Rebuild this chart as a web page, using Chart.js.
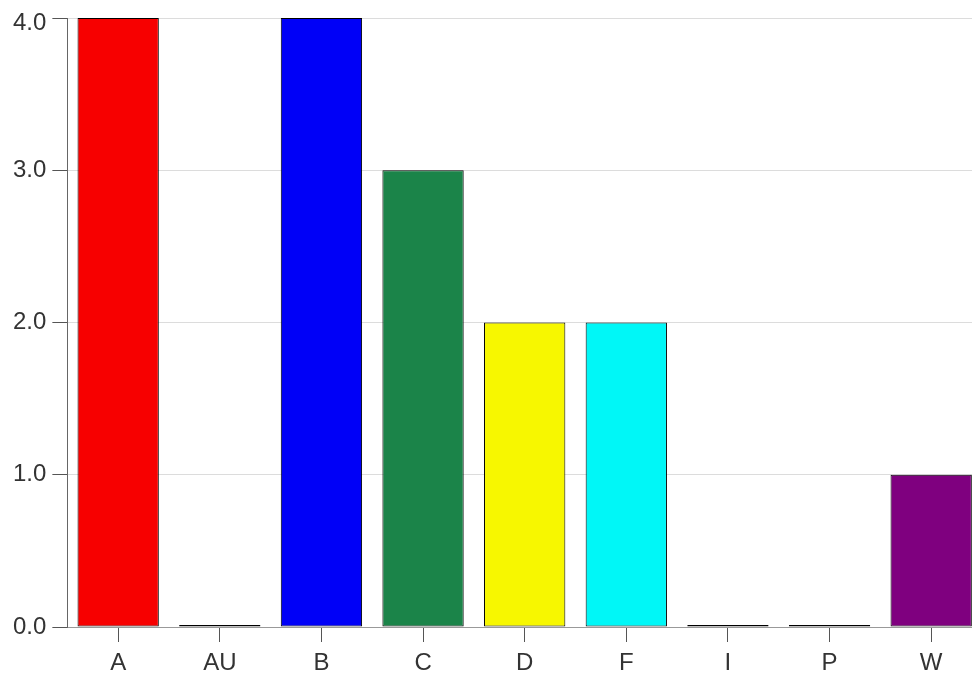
<!DOCTYPE html>
<html>
<head>
<meta charset="utf-8">
<script src="https://cdn.jsdelivr.net/npm/chart.js@4/dist/chart.umd.min.js"></script>
<style>
html,body{margin:0;padding:0;background:#fff;overflow:hidden;width:972px;height:677px;}
canvas{display:block;}
</style>
</head>
<body>
<canvas id="c" width="982" height="684" style="width:982px;height:684px;"></canvas>
<script>
const categories = ['A','AU','B','C','D','F','I','P','W'];
const counts = [4,0,4,3,2,2,0,0,1];
const barColors = ['#f70000','#ffffff','#0000f7','#1b8449','#f7f700','#00f7f7','#ffffff','#ffffff','#7f007f'];
const yTicks = [0,1,2,3,4];
const yTickLabels = ['0.0','1.0','2.0','3.0','4.0'];

new Chart(document.getElementById('c'), {
  type: 'bar',
  data: {
    labels: categories,
    datasets: [{
      data: counts,
      backgroundColor: barColors,
      borderColor: '#000',
      borderWidth: 1,
      borderSkipped: false,
      minBarLength: 2,
      barPercentage: 0.8,
      categoryPercentage: 1.0
    }]
  },
  options: {
    responsive: false,
    animation: false,
    layout: { padding: { top: 18, right: 0, left: 7, bottom: 0 } },
    plugins: { legend: { display: false }, tooltip: { enabled: false } },
    scales: {
      x: {
        offset: true,
        grid: { display: true, drawOnChartArea: false, drawTicks: true, tickLength: 15, tickColor: '#555', offset: false },
        border: { display: true, color: '#999', width: 1 },
        ticks: { color: '#333', font: { family: 'Liberation Sans, Arial, sans-serif', size: 24, lineHeight: 1.0 }, padding: 9, maxRotation: 0 }
      },
      y: {
        min: 0, max: 4,
        afterBuildTicks: (axis) => { axis.ticks = yTicks.map(v => ({ value: v })); },
        grid: { color: '#dcdcdc', tickLength: 15, tickColor: '#555' },
        border: { display: true, color: '#666', width: 1 },
        ticks: {
          color: '#333',
          font: (ctx) => ({ family: 'Liberation Sans, Arial, sans-serif', size: 24, lineHeight: (ctx.index === yTicks.length - 1) ? 0.42 : 1.0 }),
          padding: 6,
          callback: (v, i) => (i === yTicks.length - 1) ? ['', yTickLabels[i]] : yTickLabels[i]
        }
      }
    }
  }
});
</script>
</body>
</html>
